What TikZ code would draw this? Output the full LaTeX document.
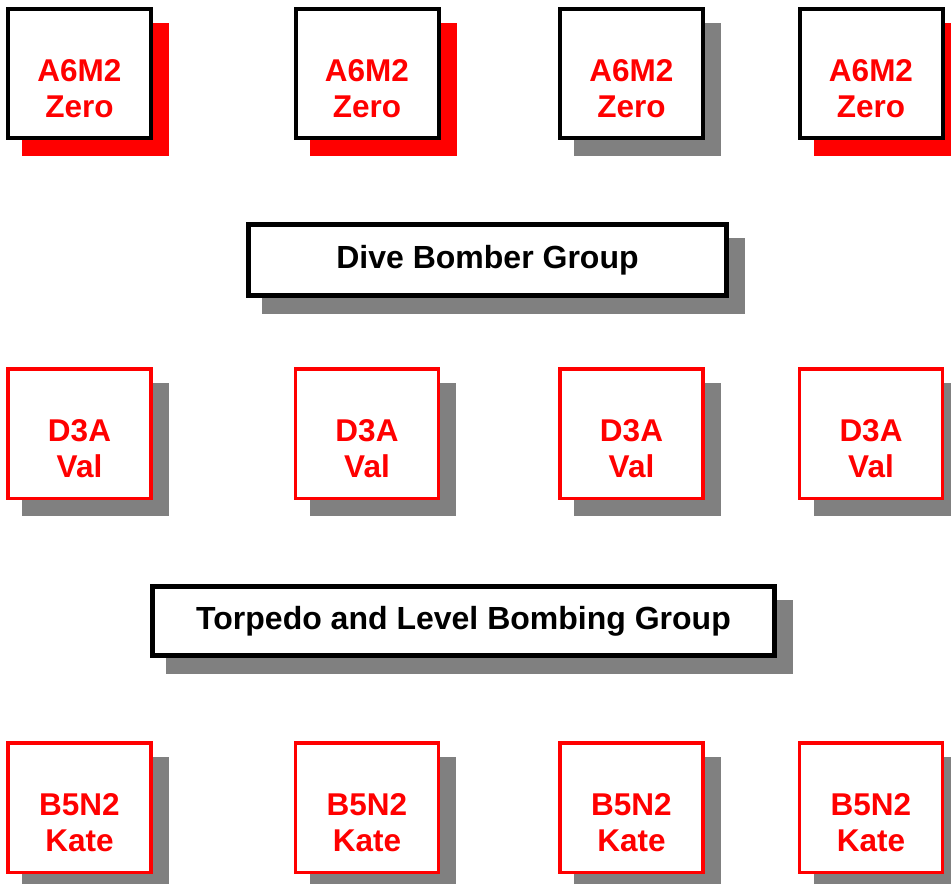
\documentclass[tikz,border=0pt]{standalone}
\usepackage{fontspec}
\setmainfont{Liberation Sans}
\usetikzlibrary{shadows}

\begin{document}
\begin{tikzpicture}[
    x=1pt, y=-1pt,
    every node/.style={font=\fontsize{31.5}{36}\selectfont\bfseries},
]

% ---------------------------------------------------------------- colours
\definecolor{planered}{HTML}{FF0000}   % plane names, bomber frames
\definecolor{shadered}{HTML}{FF0000}   % shadow behind most fighters
\definecolor{shadegrey}{HTML}{808080}  % every other shadow

\tikzset{
    plane/.style={fill=white, minimum width=143pt, minimum height=129.5pt, inner sep=0pt},
    fighter/.style={plane, draw=black, line width=4pt},
    bomber/.style={plane, draw=planered, line width=3.5pt},
    planetext/.style={align=center, text=planered, inner sep=0pt},
    groupbox/.style={draw=black, fill=white, line width=5pt, inner sep=0pt, text=black,
        font=\fontsize{32}{36}\selectfont\bfseries},
    redshade/.style={drop shadow={shadow xshift=16pt, shadow yshift=-16pt,
        opacity=1, fill=shadered, draw=shadered}},
    greyshade/.style={drop shadow={shadow xshift=16pt, shadow yshift=-16pt,
        opacity=1, fill=shadegrey, draw=shadegrey}},
}

\useasboundingbox (0, 0) rectangle (951, 884);
\clip (0, 0) rectangle (951, 884);

% ================================================================
% Four columns, three rows of planes, two group bars between.
%   column centres: 79.5, 367, 631.5, 871
%   text sits about 15 below the box centre
% ================================================================

% ----------------------------------------------------------------------
% ROW 1: fighters
% ----------------------------------------------------------------------
\node[fighter, redshade]  (z1) at (79.5, 73.5) {};
\node[fighter, redshade]  (z2) at (367, 73.5) {};
\node[fighter, greyshade] (z3) at (631.5, 73.5) {};
\node[fighter, redshade]  (z4) at (871, 73.5) {};

\node[planetext] (z1t) at ([yshift=-15pt]z1.center) {A6M2\\Zero};
\node[planetext] (z2t) at ([yshift=-15pt]z2.center) {A6M2\\Zero};
\node[planetext] (z3t) at ([yshift=-15pt]z3.center) {A6M2\\Zero};
\node[planetext] (z4t) at ([yshift=-15pt]z4.center) {A6M2\\Zero};

% ----------------------------------------------------------------------
% dive bombers
% ----------------------------------------------------------------------
\node[groupbox, greyshade, minimum width=478pt, minimum height=71pt]
    (dive) at (487.5, 260) {Dive Bomber Group};

\node[bomber, greyshade] (v1) at (79.5, 433.5) {};
\node[bomber, greyshade] (v2) at (367, 433.5) {};
\node[bomber, greyshade] (v3) at (631.5, 433.5) {};
\node[bomber, greyshade] (v4) at (871, 433.5) {};

\node[planetext] (v1t) at ([yshift=-15pt]v1.center) {D3A\\Val};
\node[planetext] (v2t) at ([yshift=-15pt]v2.center) {D3A\\Val};
\node[planetext] (v3t) at ([yshift=-15pt]v3.center) {D3A\\Val};
\node[planetext] (v4t) at ([yshift=-15pt]v4.center) {D3A\\Val};

% ----------------------------------------------------------------------
% torpedo / level bombers
% ----------------------------------------------------------------------
\node[groupbox, greyshade, minimum width=622pt, minimum height=69pt]
    (torpedo) at (463.5, 621) {Torpedo and Level Bombing Group};

\node[bomber, greyshade] (k1) at (79.5, 807.5) {};
\node[bomber, greyshade] (k2) at (367, 807.5) {};
\node[bomber, greyshade] (k3) at (631.5, 807.5) {};
\node[bomber, greyshade] (k4) at (871, 807.5) {};

\node[planetext] (k1t) at ([yshift=-15pt]k1.center) {B5N2\\Kate};
\node[planetext] (k2t) at ([yshift=-15pt]k2.center) {B5N2\\Kate};
\node[planetext] (k3t) at ([yshift=-15pt]k3.center) {B5N2\\Kate};
\node[planetext] (k4t) at ([yshift=-15pt]k4.center) {B5N2\\Kate};

\end{tikzpicture}
\end{document}
